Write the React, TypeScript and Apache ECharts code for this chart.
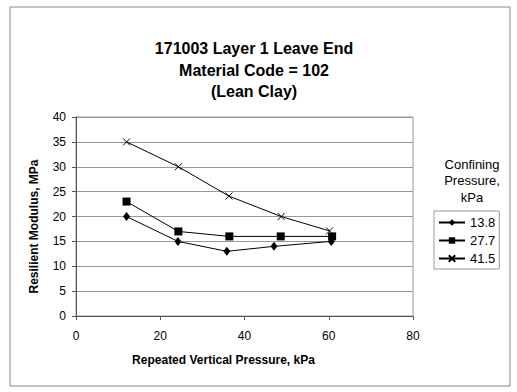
import React, { useEffect, useRef } from "react";
import * as echarts from "echarts";

const seriesNames = ["13.8", "27.7", "41.5"];
const x138 = [12.0, 24.2, 35.8, 47.0, 60.6];
const y138 = [20, 15, 13, 14, 15];
const x277 = [12.0, 24.3, 36.4, 48.6, 60.8];
const y277 = [23, 17, 16, 16, 16];
const x415 = [12.0, 24.3, 36.3, 48.7, 60.2];
const y415 = [35, 30, 24.1, 20, 17.1];

const titleLines = ["171003 Layer 1 Leave End", "Material Code = 102", "(Lean Clay)"];
const xAxisName = "Repeated Vertical Pressure, kPa";
const yAxisName = "Resilient Modulus, MPa";
const legendTitle = ["Confining", "Pressure,", "kPa"];

const zip = (xs: number[], ys: number[]) => xs.map((x, i) => [x, ys[i]]);

export default function App() {
  const ref = useRef<HTMLDivElement>(null);
  useEffect(() => {
    if (!ref.current) return;
    const chart = echarts.init(ref.current, null, { renderer: "svg" });
    const font = "Liberation Sans, Arial, sans-serif";
    chart.setOption({
      animation: false,
      backgroundColor: "#fff",
      textStyle: { fontFamily: font, color: "#000" },
      title: [
        {
          text: titleLines.join("\n"),
          left: 249,
          top: 33,
          textAlign: "center",
          textStyle: { fontFamily: font, fontSize: 16, fontWeight: "bold", color: "#000", lineHeight: 21.5 },
        },
        {
          text: legendTitle.join("\n"),
          left: 467,
          top: 151,
          textAlign: "center",
          textStyle: { fontFamily: font, fontSize: 13, fontWeight: "normal", color: "#000", lineHeight: 16.5 },
        },
      ],
      graphic: [
        {
          type: "rect",
          shape: { x: 10, y: 7, width: 500, height: 379 },
          style: { fill: "none", stroke: "#888", lineWidth: 1 },
          silent: true,
        },
      ],
      legend: {
        orient: "vertical",
        left: 434,
        top: 211,
        padding: [5, 4, 4, 4],
        itemGap: 5,
        itemWidth: 26,
        itemHeight: 8,
        borderColor: "#999",
        borderWidth: 1,
        textStyle: { fontFamily: font, fontSize: 13, color: "#000" },
        data: seriesNames,
      },
      grid: {
        left: 76,
        right: 104,
        top: 117,
        bottom: 76,
        show: true,
        borderColor: "#999",
        borderWidth: 1,
      },
      xAxis: {
        type: "value",
        min: 0,
        max: 80,
        interval: 20,
        name: xAxisName,
        nameLocation: "middle",
        nameGap: 38,
        nameTextStyle: { fontFamily: font, fontSize: 12, fontWeight: "bold", color: "#000", padding: [0, 42, 0, 0] },
        axisLine: { lineStyle: { color: "#555", width: 1 } },
        axisTick: { show: true, length: 4, lineStyle: { color: "#555" } },
        axisLabel: { margin: 14, fontSize: 12, color: "#000", fontFamily: font },
        splitLine: { show: false },
      },
      yAxis: {
        type: "value",
        min: 0,
        max: 40,
        interval: 5,
        name: yAxisName,
        nameLocation: "middle",
        nameGap: 36,
        nameTextStyle: { fontFamily: font, fontSize: 12, fontWeight: "bold", color: "#000", padding: [0, 20, 0, 0] },
        axisLine: { show: true, lineStyle: { color: "#555", width: 1 } },
        axisTick: { show: true, length: 4, lineStyle: { color: "#555" } },
        axisLabel: { margin: 10, fontSize: 12, color: "#000", fontFamily: font },
        splitLine: { show: true, lineStyle: { color: "#999", width: 1 } },
      },
      series: [
        {
          name: seriesNames[0],
          type: "line",
          data: zip(x138, y138),
          symbol: "diamond",
          symbolSize: [7, 9],
          color: "#000",
          lineStyle: { color: "#000", width: 1 },
          itemStyle: { color: "#000" },
        },
        {
          name: seriesNames[1],
          type: "line",
          data: zip(x277, y277),
          symbol: "rect",
          symbolSize: 8,
          color: "#000",
          lineStyle: { color: "#000", width: 1 },
          itemStyle: { color: "#000" },
        },
        {
          name: seriesNames[2],
          type: "line",
          data: zip(x415, y415),
          symbol: "path://M0,0L10,10M10,0L0,10",
          symbolSize: 7,
          color: "#000",
          lineStyle: { color: "#000", width: 1 },
          itemStyle: { color: "none", borderColor: "#000", borderWidth: 1 },
        },
      ],
    });
    return () => chart.dispose();
  }, []);
  return (
    <div
      ref={ref}
      style={{ position: "absolute", left: 0, top: 0, width: 517, height: 392 }}
    />
  );
}
